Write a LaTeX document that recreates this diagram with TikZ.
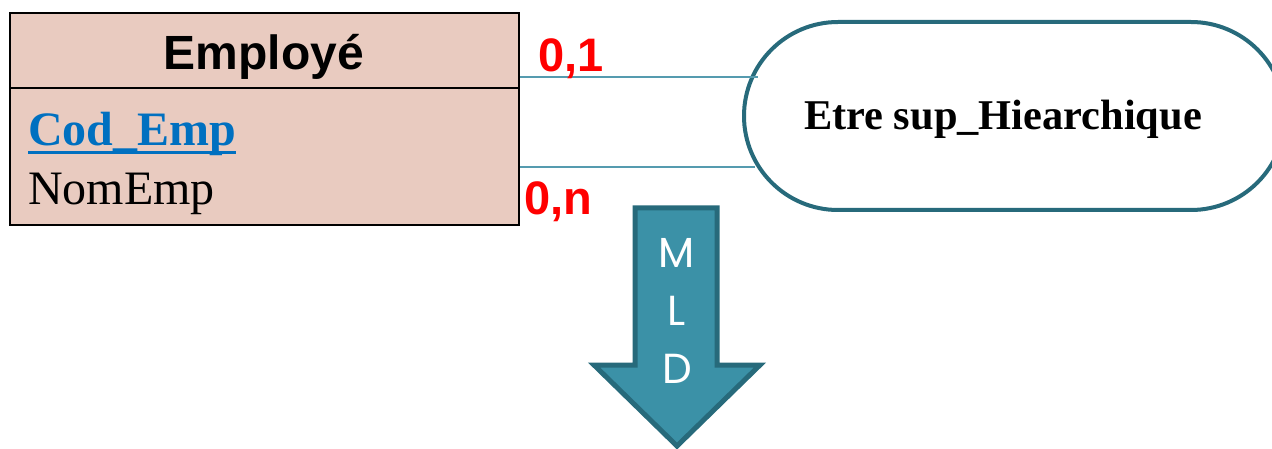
\documentclass[tikz,border=0pt]{standalone}
\usepackage{fontspec}
\setmainfont{Liberation Serif}
\newfontfamily\arialf{Liberation Sans}
\newfontfamily\gothicf{Poppins}
\definecolor{boxfill}{RGB}{233,203,192}
\definecolor{keyblue}{RGB}{0,112,192}
\definecolor{darkteal}{RGB}{39,106,123}
\definecolor{lineteal}{RGB}{85,155,175}
\definecolor{arrowfill}{RGB}{59,145,167}
\definecolor{cardred}{RGB}{255,0,0}
\tikzset{
  entity/.style={draw=black, line width=2pt, fill=boxfill, inner sep=0pt},
  relation/.style={draw=darkteal, line width=4pt, fill=white, rounded corners=94pt, inner sep=0pt},
  conn/.style={draw=lineteal, line width=1.6pt},
  card/.style={text=cardred, font=\arialf\bfseries\fontsize{47}{50}\selectfont, inner sep=0pt},
  txt/.style={inner sep=0pt},
  mldarrow/.style={draw=darkteal, fill=arrowfill, line width=5pt, line join=miter},
  mldletter/.style={text=white, font=\gothicf\fontsize{42}{46}\selectfont, inner sep=0pt, anchor=base}
}
\begin{document}
\begin{tikzpicture}[x=1pt,y=-1pt]
\useasboundingbox (0,0) rectangle (1272,449);
% entity
\node[entity, minimum width=509pt, minimum height=212pt, anchor=north west] (emp) at (9,12) {};
\coordinate (divy) at (0,88);
\draw[line width=2pt] (emp.west |- divy) -- (emp.east |- divy);
\node[txt, anchor=base, font=\arialf\bfseries\fontsize{48}{52}\selectfont] (emptitle) at (264,70) {Employé};
\node[txt, anchor=base west, text=keyblue, font=\bfseries\fontsize{48}{52}\selectfont] (cod) at (28,146) {Cod\_Emp};
\draw[keyblue, line width=3pt] ([yshift=-7pt]cod.base west) -- ([yshift=-7pt]cod.base east);
\node[txt, anchor=base west, font=\fontsize{48}{52}\selectfont] (nom) at (28,205) {NomEmp};
% relation
\node[relation, minimum width=541pt, minimum height=188pt] (rel) at (1014.5,116) {};
\node[txt, anchor=base, font=\bfseries\fontsize{42.4}{46}\selectfont] (reltxt) at (1003,130) {Etre sup\_Hiearchique};
% connectors
\coordinate (r1) at (758,77);
\coordinate (r2) at (755,167);
\draw[conn] (emp.east |- r1) -- (r1);
\draw[conn] (emp.east |- r2) -- (r2);
\node[card, anchor=base west] (c01) at (538,72) {0,1};
\node[card, anchor=base west] (c0n) at (524,215) {0,n};
% MLD arrow
\draw[mldarrow] (635,208) -- (717,208) -- (717,365) -- (760,365) -- (677,446) -- (594,365) -- (635,365) -- cycle;
\node[mldletter] (m) at (677,267) {M};
\node[mldletter] (l) at (677,325) {L};
\node[mldletter] (d) at (677,383) {D};
\end{tikzpicture}
\end{document}
